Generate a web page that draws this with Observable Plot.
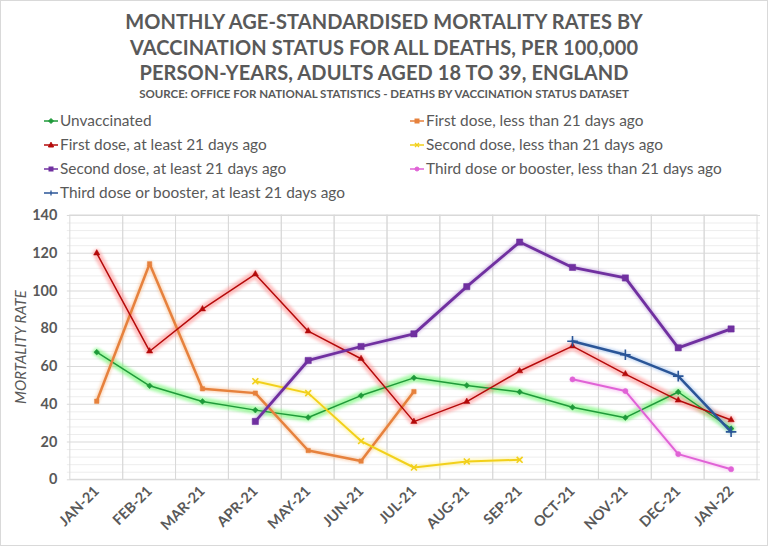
<!DOCTYPE html>
<html><head><meta charset="utf-8">
<script src="https://cdn.jsdelivr.net/npm/d3@7"></script>
<script src="https://cdn.jsdelivr.net/npm/@observablehq/plot@0.6"></script>
<style>
body{margin:0;background:#fff;}
#wrap{position:relative;width:768px;height:546px;box-sizing:border-box;border:1px solid #d9d9d9;overflow:hidden;font-family:Lato,"Open Sans",sans-serif;color:#595959;background:#fff;}
#title{position:absolute;top:8px;left:0;width:100%;text-align:center;font-weight:bold;font-size:20px;line-height:25.5px;letter-spacing:0.1px;}
#source{position:absolute;top:86px;left:0;width:100%;text-align:center;font-weight:bold;font-size:11.5px;}
.leg{position:absolute;font-size:15.4px;white-space:nowrap;line-height:18px;}
.leg svg{vertical-align:middle;margin-right:1px;position:relative;top:-1px;}
#chart{position:absolute;top:205px;left:0;}
#ylab{position:absolute;left:19px;top:346px;transform:translate(-50%,-50%) rotate(-90deg);font-style:italic;font-size:15px;white-space:nowrap;color:#595959;}
</style></head>
<body>
<div id="wrap">
  <div id="title"></div>
  <div id="source"></div>
  <div id="legend"></div>
  <div id="chart"></div>
  <div id="ylab"></div>
</div>
<script>
const titleLines = ["MONTHLY AGE-STANDARDISED MORTALITY RATES BY","VACCINATION STATUS FOR ALL DEATHS, PER 100,000","PERSON-YEARS, ADULTS AGED 18 TO 39, ENGLAND"];
const sourceText = "SOURCE: OFFICE FOR NATIONAL STATISTICS - DEATHS BY VACCINATION STATUS DATASET";
const yLabel = "MORTALITY RATE";

const months = ["JAN-21","FEB-21","MAR-21","APR-21","MAY-21","JUN-21","JUL-21","AUG-21","SEP-21","OCT-21","NOV-21","DEC-21","JAN-22"];
const yTicks = [0,20,40,60,80,100,120,140];
const yMinorTicks = [4,8,12,16,24,28,32,36,44,48,52,56,64,68,72,76,84,88,92,96,104,108,112,116,124,128,132,136];

const seriesNames = [
  "Unvaccinated",
  "First dose, less than 21 days ago",
  "First dose, at least 21 days ago",
  "Second dose, less than 21 days ago",
  "Second dose, at least 21 days ago",
  "Third dose or booster, less than 21 days ago",
  "Third dose or booster, at least 21 days ago"
];
const unvaccinated    = [67.6,49.8,41.5,36.9,33.0,44.6,54.0,50.0,46.5,38.4,32.9,46.5,27.1];
const firstLess21     = [41.6,114.4,48.2,45.9,15.5,9.9,46.7,null,null,null,null,null,null];
const firstAtLeast21  = [120.0,68.1,90.4,108.9,78.7,64.1,30.8,41.4,57.6,70.8,56.0,42.1,31.7];
const secondLess21    = [null,null,null,52.2,45.9,20.5,6.5,9.7,10.6,null,null,null,null];
const secondAtLeast21 = [null,null,null,30.9,63.2,70.6,77.3,102.3,125.9,112.5,106.9,69.9,79.9];
const thirdLess21     = [null,null,null,null,null,null,null,null,null,53.2,47.0,13.6,5.6];
const thirdAtLeast21  = [null,null,null,null,null,null,null,null,null,73.4,66.2,54.9,25.4];
const seriesValues = [unvaccinated, firstLess21, firstAtLeast21, secondLess21, secondAtLeast21, thirdLess21, thirdAtLeast21];

const styles = [
  {color:"#1f9a3a", glow:"#5ef55e", width:1.5, glowW:8, symbol:"diamond2", r:2.6},
  {color:"#e6813d", glow:"#f7b784", width:2.5, glowW:5, symbol:"square2", r:2.8},
  {color:"#b40a0a", glow:"#ff8c8c", width:1.5, glowW:8, symbol:"triangle2", r:3},
  {color:"#f2d01a", glow:"#fff08a", width:2, glowW:5, symbol:"times", r:2.8},
  {color:"#7030a0", glow:"#b58fd6", width:2.8, glowW:5, symbol:"square2", r:4},
  {color:"#e062d6", glow:"#f5b0ee", width:2, glowW:5, symbol:"circle", r:2.6},
  {color:"#2a5597", glow:"#8fb4e8", width:2.5, glowW:5, symbol:"plus", r:3.5}
];

document.getElementById("title").innerHTML = titleLines.join("<br>");
document.getElementById("source").textContent = sourceText;
document.getElementById("ylab").textContent = yLabel;

// Legend
const legPos = [[42,110],[408,110],[42,134],[408,134],[42,158],[408,158],[42,182]];
const symPath = {
  diamond2: '<path d="M8 2.5L10.5 5L8 7.5L5.5 5Z"/>',
  square2: '<rect x="6" y="3" width="4" height="4"/>',
  triangle2: '<path d="M8 2.2L10.6 7L5.4 7Z"/>',
  times: '<path d="M6 3L10 7M10 3L6 7" stroke-width="1.3"/>',
  circle: '<circle cx="8" cy="5" r="2"/>',
  plus: '<path d="M8 2.5V7.5" stroke-width="1.3"/>'
};
const legend = document.getElementById("legend");
seriesNames.forEach((name,i)=>{
  const s = styles[i];
  const d = document.createElement("div");
  d.className = "leg";
  d.style.left = legPos[i][0]+"px";
  d.style.top = legPos[i][1]+"px";
  d.innerHTML = `<svg width="16" height="10" fill="${s.color}" stroke="${s.color}"><line x1="1" y1="5" x2="15" y2="5" stroke-width="1.5"/>${symPath[s.symbol]}</svg>${name}`;
  legend.appendChild(d);
});

const marks = [
  Plot.ruleY(yMinorTicks, {y: d=>d, stroke:"#ededed", strokeWidth:1}),
  Plot.ruleY(yTicks, {y: d=>d, stroke:"#d9d9d9", strokeWidth:1}),
  Plot.barY(months, {x: d=>d, y1: 0, y2: 140, fill:"none", stroke:"#d9d9d9", strokeWidth:1}),
  Plot.axisY({ticks: yTicks, tickSize:0, tickPadding:10, label:null, fontSize:14.5, fontWeight:"bold", fill:"#595959"}),
  Plot.axisX({tickRotate:-45, tickSize:0, tickPadding:9, label:null, fontSize:14.5, fontWeight:"bold", fill:"#595959"})
];
seriesValues.forEach((vals,i)=>{
  const s = styles[i];
  const rows = months.map((m,j)=>({month:m, value:vals[j]})).filter(d=>d.value!=null);
  marks.push(Plot.line(rows, {x:"month", y:"value", stroke:s.glow, strokeWidth:s.glowW, strokeOpacity:0.55, imageFilter:"blur(1.5px)"}));
});
seriesValues.forEach((vals,i)=>{
  const s = styles[i];
  const rows = months.map((m,j)=>({month:m, value:vals[j]})).filter(d=>d.value!=null);
  marks.push(Plot.line(rows, {x:"month", y:"value", stroke:s.color, strokeWidth:s.width}));
  const stroked = (s.symbol==="times"||s.symbol==="plus");
  marks.push(Plot.dot(rows, {x:"month", y:"value", symbol:()=>s.symbol, r:s.r,
    fill: stroked ? "none" : s.color, stroke: s.color, strokeWidth: stroked ? 1.6 : 0.5}));
});

const chart = Plot.plot({
  width: 768, height: 341,
  marginTop: 9, marginBottom: 67, marginLeft: 66, marginRight: 7,
  x: {domain: months, padding: 0, type:"band"},
  y: {domain: [0,140]},
  symbol: {type:"identity"},
  style: {fontFamily:"Lato, 'Open Sans', sans-serif", color:"#595959", background:"transparent"},
  marks
});
document.getElementById("chart").appendChild(chart);
</script>
</body></html>
